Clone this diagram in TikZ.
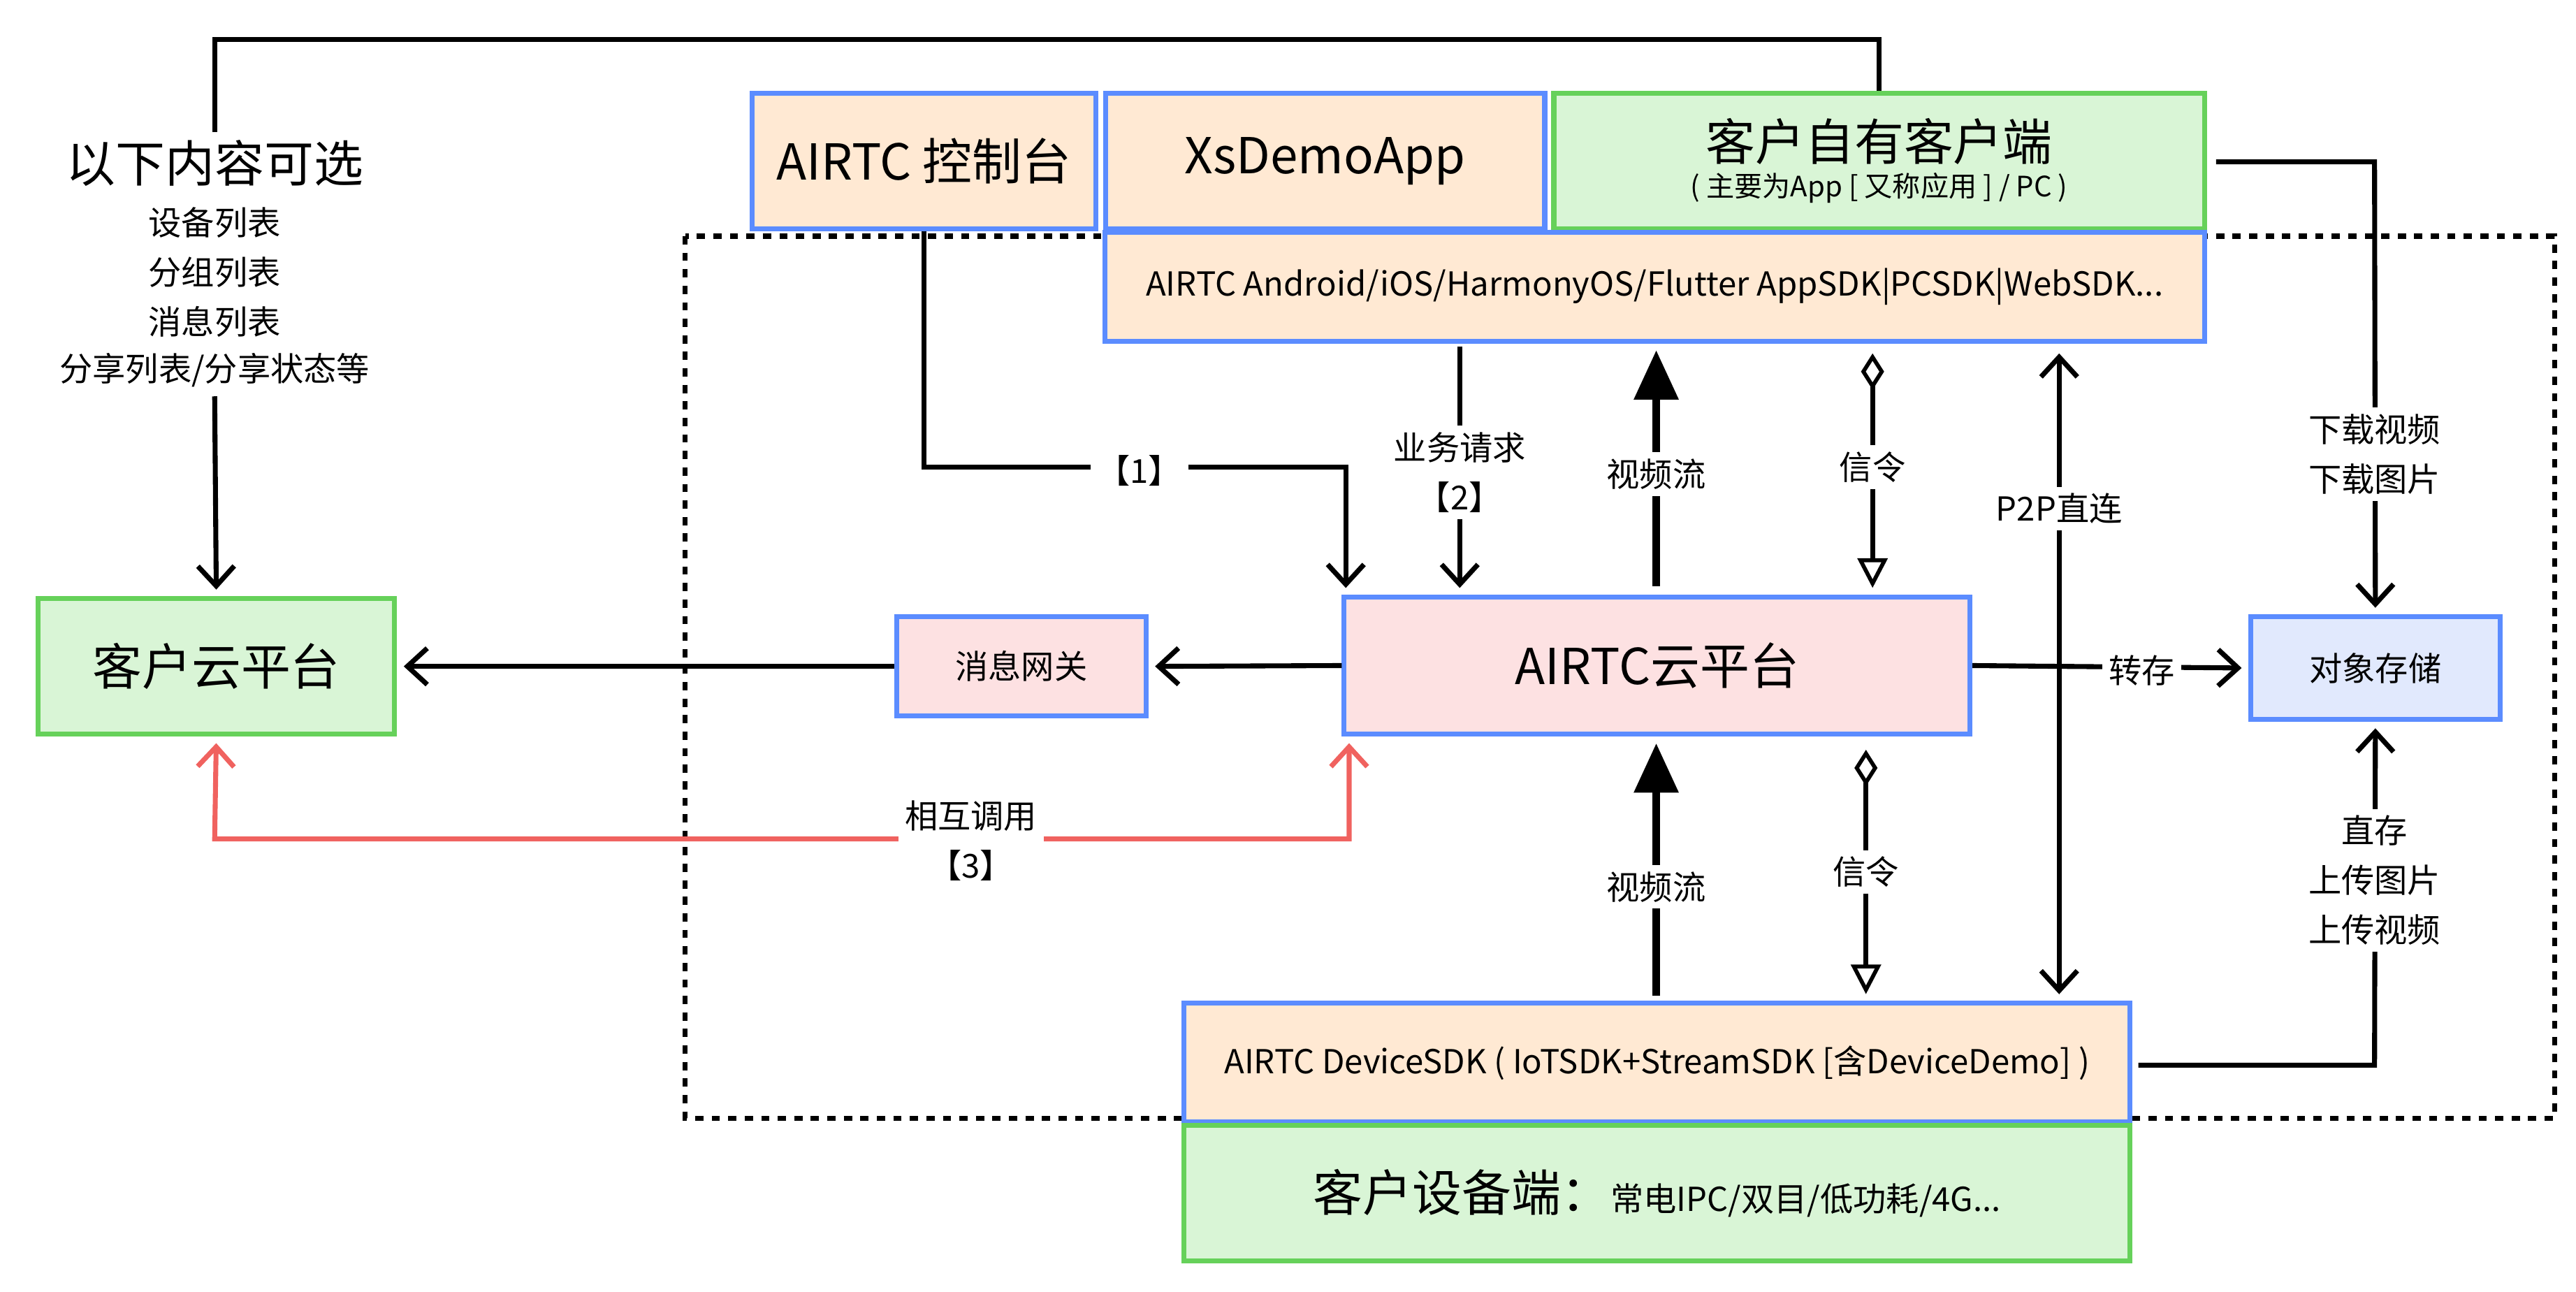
\documentclass[tikz,border=0pt]{standalone}
\usepackage{fontspec}
\setmainfont{Noto Sans CJK SC}
\usetikzlibrary{arrows.meta,calc}
\definecolor{bl}{HTML}{5B8CFF}
\definecolor{gr}{HTML}{66D15A}
\definecolor{orf}{HTML}{FFE9D3}
\definecolor{grf}{HTML}{D9F5D6}
\definecolor{pkf}{HTML}{FDE1E2}
\definecolor{blf}{HTML}{E1E9FD}
\definecolor{rd}{HTML}{F0625F}
\begin{document}
\begin{tikzpicture}[x=0.5pt,y=-0.5pt,
  box/.style={draw=bl,line width=1.5pt,inner sep=0pt,align=center},
  gbox/.style={box,draw=gr},
  ln/.style={line width=1.5pt,line join=miter},
  arr/.style={ln,-{Straight Barb[length=6pt,width=11pt,line width=1.5pt]},shorten >=2pt},
  lbl/.style={fill=white,inner sep=2pt,font=\fontsize{10}{15}\selectfont,align=center},
  big/.style={font=\fontsize{15}{18}\selectfont},
  thk/.style={line width=2.5pt,-{Triangle[length=15pt,width=13pt]},shorten >=2pt},
  sig/.style={ln,{Diamond[open,length=11pt,width=7pt,line width=1.2pt]}-{Triangle[open,length=9pt,width=9pt,line width=1.2pt]},shorten >=2pt,shorten <=2pt}]
\useasboundingbox (0,0) rectangle (1560,782);
\draw[line width=1.5pt,dash pattern=on 2.5pt off 2.5pt] (415,143) rectangle (1547,677);
% boxes
\node[box,fill=orf,big,minimum width=104pt,minimum height=41pt] (ctl) at (559.5,97.5) {AIRTC 控制台};
\node[box,fill=orf,big,minimum width=133pt,minimum height=41pt] (xs) at (802.5,97.5) {XsDemoApp};
\node[gbox,fill=grf,minimum width=197pt,minimum height=41pt] (own) at (1138,97.5) {{\fontsize{15}{18}\selectfont 客户自有客户端}\\[-1pt]{\fontsize{8.5}{10}\selectfont ( 主要为App [ 又称应用 ] / PC )}};
\node[box,fill=orf,font=\fontsize{10}{12}\selectfont,minimum width=333pt,minimum height=33pt] (sdk) at (1002,173.5) {AIRTC Android/iOS/HarmonyOS/Flutter AppSDK|PCSDK|WebSDK...};
\node[gbox,fill=grf,big,minimum width=108pt,minimum height=41pt] (ccp) at (131,403.5) {客户云平台};
\node[box,fill=pkf,font=\fontsize{10}{12}\selectfont,minimum width=75.5pt,minimum height=30pt] (gw) at (618.5,403.5) {消息网关};
\node[box,fill=pkf,big,minimum width=189.5pt,minimum height=41.5pt] (pf) at (1003.5,403) {AIRTC云平台};
\node[box,fill=blf,font=\fontsize{10}{12}\selectfont,minimum width=75.5pt,minimum height=31pt] (os) at (1438.5,404.5) {对象存储};
\node[box,fill=orf,font=\fontsize{10}{12}\selectfont,minimum width=286.5pt,minimum height=36pt] (dev) at (1003.5,643.5) {AIRTC DeviceSDK ( IoTSDK+StreamSDK [含DeviceDemo] )};
\node[gbox,fill=grf,minimum width=286.5pt,minimum height=41pt] (cde) at (1003.5,722.5) {{\fontsize{15}{18}\selectfont 客户设备端：}{\fontsize{10}{12}\selectfont 常电IPC/双目/低功耗/4G...}};
% optional list
\node[big,inner sep=1pt] (opt) at (130,99) {以下内容可选};
\node[lbl,inner sep=0pt] (l1) at (130,135) {设备列表};
\node[lbl,inner sep=0pt] (l2) at (130,165) {分组列表};
\node[lbl,inner sep=0pt] (l3) at (130,195) {消息列表};
\node[lbl,inner sep=0pt] (l4) at (130,224) {分享列表/分享状态等};
\coordinate (tl) at (130,24);
\coordinate (tr) at (1138,24);
\draw[ln] (130,80) -- (tl) -- (tr) -- (own.north);
\draw[arr] (130,240) -- (ccp.north);
% [1]
\coordinate (c1) at (815,283);
\draw[arr] (ctl.south) |- (c1) -- (pf.north -| c1);
\node[lbl] at (690,285) {【1】};
% [2]
\coordinate (c2) at (884,210);
\draw[arr] (c2) -- (pf.north -| c2);
\node[lbl] at (884,286) {业务请求\\【2】};
% video up
\coordinate (v1) at (1003,355);
\draw[thk] (v1) -- (sdk.south -| v1);
\node[lbl] at (1003,287) {视频流};
% signalling top
\coordinate (s1) at (1134,210);
\draw[sig] (s1) -- (pf.north -| s1);
\node[lbl] at (1134,283) {信令};
% P2P
\coordinate (p1) at (1247,210);
\draw[ln,{Straight Barb[length=6pt,width=11pt,line width=1.5pt]}-{Straight Barb[length=6pt,width=11pt,line width=1.5pt]},shorten >=2pt,shorten <=2pt] (p1) -- (dev.north -| p1);
\node[lbl] at (1247,308) {P2P直连};
% download
\coordinate (d1) at (1342,98);
\coordinate (d2) at (1438,98);
\draw[arr] (d1) -- (d2) -- (os.north);
\node[lbl] at (1438,275) {下载视频\\下载图片};
% horizontal
\draw[arr] (pf.west) -- (gw.east);
\draw[arr] (gw.west) -- (ccp.east);
\draw[arr] (pf.east) -- (os.west);
\node[lbl] at (1297,406) {转存};
% red
\coordinate (r1) at (130,508);
\coordinate (r2) at (817,508);
\draw[ln,rd,{Straight Barb[length=6pt,width=11pt,line width=1.5pt]}-{Straight Barb[length=6pt,width=11pt,line width=1.5pt]},shorten >=2pt,shorten <=2pt] (ccp.south) -- (r1) -- (r2) -- (pf.south -| r2);
\node[lbl] at (588,509) {相互调用\\【3】};
% video bottom
\coordinate (v2) at (1003,603);
\draw[thk] (v2) -- (pf.south -| v2);
\node[lbl] at (1003,537) {视频流};
% signalling bottom
\coordinate (s2) at (1130,450);
\draw[sig] (s2) -- (dev.north -| s2);
\node[lbl] at (1130,528) {信令};
% upload
\coordinate (u1) at (1295,645);
\coordinate (u2) at (1438,645);
\draw[arr] (u1) -- (u2) -- (os.south);
\node[lbl] at (1438,533) {直存\\上传图片\\上传视频};
\end{tikzpicture}
\end{document}
